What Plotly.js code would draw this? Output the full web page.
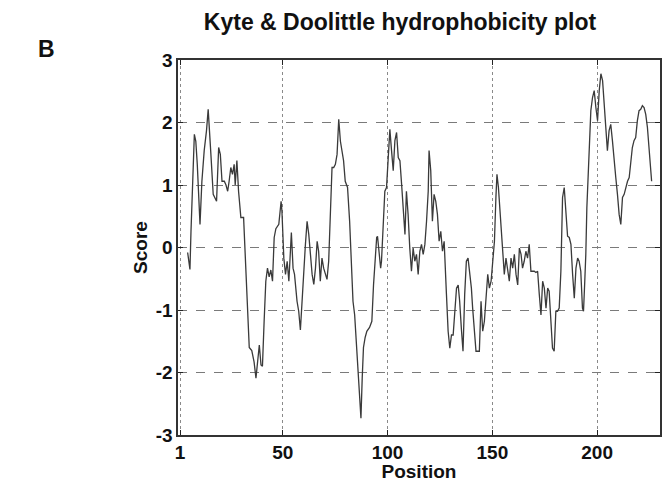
<!DOCTYPE html>
<html>
<head>
<meta charset="utf-8">
<script src="https://cdn.plot.ly/plotly-3.0.1.min.js"></script>
<style>
html,body{margin:0;padding:0;background:#fff;}
#chart{width:663px;height:482px;}
</style>
</head>
<body>
<div id="chart"></div>
<script>
// Position along the sequence
var positions = [
  4.6,5.7,6.2,6.9,7.8,8.5,9.2,10.5,11.4,12.5,13.6,14.4,14.9,15.7,16.8,18.4,19.4,20.2,21.0,22.1,
  22.9,23.7,24.4,25.2,26.0,26.8,27.3,28.1,28.9,30.0,31.3,32.4,33.2,34.0,35.2,36.3,37.2,38.0,38.8,39.6,
  40.3,41.1,41.9,42.7,43.5,44.3,45.1,45.9,46.7,48.1,49.2,49.6,50.5,51.3,52.1,52.9,53.7,54.1,54.9,55.6,
  56.8,57.6,58.4,59.2,60.0,60.8,61.6,62.4,63.2,64.0,64.8,65.6,66.4,67.1,67.9,68.7,69.5,70.3,71.1,71.9,
  72.7,73.5,74.3,75.1,75.9,76.7,77.5,78.3,79.0,79.8,80.9,81.9,82.7,83.5,84.3,85.1,85.7,86.7,87.3,87.9,
  88.5,89.3,90.1,91.4,92.5,93.3,94.0,94.8,95.2,95.9,96.7,97.1,97.9,98.7,99.5,100.3,101.1,101.9,102.7,103.5,
  104.3,105.1,105.9,106.7,107.5,108.3,109.0,109.8,110.6,111.4,112.2,113.0,113.8,114.6,115.4,116.2,117.0,117.8,118.6,119.4,
  119.8,120.6,121.4,122.2,123.0,123.8,124.6,125.4,126.2,127.0,128.1,128.9,129.7,130.5,131.3,132.1,132.9,133.7,134.4,135.2,
  136.0,136.8,137.6,138.4,139.2,140.0,140.6,141.4,142.2,143.0,143.8,144.6,145.4,146.2,147.0,147.8,148.6,149.4,150.2,151.0,
  151.7,152.2,152.9,153.3,154.1,154.9,155.7,156.5,157.3,158.1,158.9,159.7,160.5,161.3,162.1,162.9,163.7,164.4,165.2,166.0,
  166.8,167.6,168.4,169.2,170.0,170.8,171.6,172.4,173.2,174.0,174.8,175.6,176.4,177.1,177.9,178.7,179.5,180.3,181.1,181.9,
  182.7,183.5,184.3,185.1,185.9,186.7,187.5,188.3,189.1,189.9,190.7,191.4,192.2,193.0,193.5,194.1,194.6,195.1,195.7,196.4,
  197.0,197.8,198.6,199.4,200.2,201.0,201.8,202.6,203.3,204.1,204.9,205.7,206.5,207.3,208.1,208.9,209.7,210.5,211.3,212.1,
  212.9,213.7,214.5,215.3,216.0,216.8,217.6,218.4,219.2,220.0,220.8,221.6,222.4,223.2,224.0,224.8,225.6,226.0
];
// Kyte & Doolittle score at each position
var scores = [
  -0.08,-0.35,0.26,0.96,1.81,1.70,1.33,0.37,1.06,1.55,1.87,2.21,1.97,1.49,0.85,0.74,1.60,1.49,1.06,1.06,
  1.00,0.90,1.06,1.28,1.17,1.33,1.00,1.39,0.90,0.48,0.48,-0.38,-0.96,-1.60,-1.65,-1.83,-2.09,-1.78,-1.56,-1.88,
  -1.90,-1.18,-0.54,-0.33,-0.47,-0.36,-0.54,0.16,0.30,0.37,0.74,0.58,-0.17,-0.43,-0.22,-0.54,0.00,0.24,-0.33,-0.43,
  -0.86,-1.02,-1.32,-0.80,-0.38,0.05,0.42,0.21,-0.11,-0.43,-0.59,-0.33,0.10,-0.06,-0.54,-0.17,-0.33,-0.43,-0.51,-0.22,
  0.53,1.28,1.28,1.33,1.49,2.05,1.70,1.49,1.39,1.06,0.96,0.42,-0.17,-0.86,-1.08,-1.50,-1.88,-2.25,-2.73,-2.09,
  -1.60,-1.44,-1.34,-1.28,-1.18,-0.60,-0.22,0.16,0.18,-0.11,-0.33,-0.22,0.42,0.90,0.96,1.55,1.89,1.55,1.23,1.71,
  1.84,1.44,1.39,1.01,0.58,0.21,0.90,0.53,-0.01,-0.38,-0.01,-0.22,-0.11,-0.43,-0.06,0.05,-0.11,0.05,0.42,0.90,
  1.55,1.23,0.42,0.85,0.74,0.53,0.10,0.26,-0.06,0.10,-0.75,-1.34,-1.61,-1.40,-1.40,-1.08,-0.65,-0.60,-0.86,-1.29,
  -1.66,-0.75,-0.22,-0.17,-0.38,-0.65,-0.97,-1.40,-1.66,-1.66,-1.66,-0.86,-1.34,-1.18,-0.75,-0.43,-0.65,-0.54,-0.22,0.10,
  0.80,1.17,0.96,0.74,0.37,-0.06,-0.43,-0.17,-0.38,-0.54,-0.17,-0.33,-0.11,-0.43,-0.60,-0.01,-0.11,-0.33,-0.22,-0.06,
  -0.17,0.05,-0.38,-0.38,-0.38,-0.40,-0.38,-0.75,-1.08,-0.54,-0.65,-0.97,-0.65,-0.70,-1.08,-1.61,-1.66,-1.02,-1.02,-0.97,
  -0.38,0.80,0.96,0.53,0.18,0.16,0.05,-0.43,-0.81,-0.33,-0.17,-0.22,-0.38,-0.97,-1.02,-0.54,-0.11,0.64,1.06,1.55,
  2.19,2.40,2.51,2.24,2.03,2.51,2.78,2.67,2.30,1.92,1.55,1.87,1.97,1.71,1.33,1.12,0.85,0.53,0.37,0.80,
  0.85,0.96,1.06,1.12,1.33,1.60,1.71,1.76,2.03,2.19,2.21,2.27,2.24,2.13,1.92,1.55,1.12,1.06
];
var xTickVals = [1, 50, 100, 150, 200];
var xTickText = ["1", "50", "100", "150", "200"];
var yTickVals = [-3, -2, -1, 0, 1, 2, 3];
var yTickText = ["-3", "-2", "-1", "0", "1", "2", "3"];

var fontFam = "Liberation Sans, Arial, Helvetica, sans-serif";
function bold(arr) { return arr.map(function (s) { return "<b>" + s + "</b>"; }); }

var trace = {
  x: positions,
  y: scores,
  type: "scatter",
  mode: "lines",
  line: {color: "#3a3a3a", width: 1.3},
  hoverinfo: "skip"
};

var layout = {
  width: 663,
  height: 482,
  margin: {l: 178, r: 3, t: 60, b: 47},
  paper_bgcolor: "#ffffff",
  plot_bgcolor: "#ffffff",
  showlegend: false,
  title: {
    text: "<b>Kyte & Doolittle hydrophobicity plot</b>",
    font: {family: fontFam, size: 23, color: "#111"},
    x: 400 / 663, xref: "container", xanchor: "center",
    y: 1 - 22 / 482, yref: "container", yanchor: "middle"
  },
  xaxis: {
    range: [0, 230],
    tickvals: xTickVals,
    ticktext: bold(xTickText),
    tickfont: {family: fontFam, size: 19, color: "#111"},
    ticks: "inside",
    ticklen: 5,
    tickcolor: "#222",
    showline: true,
    linecolor: "#333",
    linewidth: 1.6,
    mirror: "ticks",
    showgrid: true,
    gridcolor: "#8a8a8a",
    griddash: "dot",
    gridwidth: 1,
    zeroline: false,
    title: {text: "<b>Position</b>", font: {family: fontFam, size: 19, color: "#111"}, standoff: 2}
  },
  yaxis: {
    range: [-3, 3],
    tickvals: yTickVals,
    ticktext: bold(yTickText),
    tickfont: {family: fontFam, size: 19, color: "#111"},
    ticks: "inside",
    ticklen: 5,
    tickcolor: "#222",
    showline: true,
    linecolor: "#333",
    linewidth: 1.6,
    mirror: "ticks",
    showgrid: true,
    gridcolor: "#7a7a7a",
    griddash: "dash",
    gridwidth: 1,
    zeroline: false,
    title: {text: "<b>Score</b>", font: {family: fontFam, size: 19, color: "#111"}, standoff: 3}
  },
  annotations: [{
    text: "<b>B</b>",
    xref: "paper", yref: "paper",
    x: -0.272, y: 1.03,
    xanchor: "center", yanchor: "middle",
    showarrow: false,
    font: {family: fontFam, size: 23, color: "#111"}
  }]
};

Plotly.newPlot("chart", [trace], layout, {displayModeBar: false, staticPlot: true});
</script>
</body>
</html>
